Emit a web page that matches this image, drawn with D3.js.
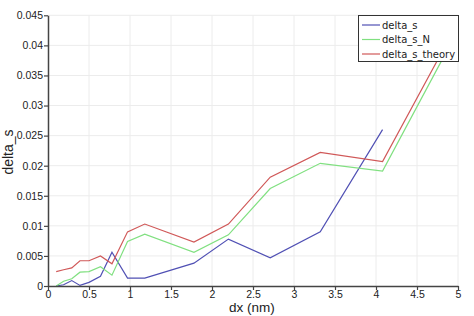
<!DOCTYPE html>
<html>
<head>
<meta charset="utf-8">
<script src="https://cdn.jsdelivr.net/npm/d3@7"></script>
<style>
html,body{margin:0;padding:0;background:#fff;}
svg{display:block;}
</style>
</head>
<body>
<script>
const dx = [0.1, 0.19, 0.29, 0.39, 0.5, 0.64, 0.78, 0.97, 1.18, 1.78, 2.2, 2.71, 3.32, 4.08, 4.9];
const deltaS = [0, 0.0002, 0.0009, 0.0001, 0.0006, 0.0016, 0.0056, 0.0013, 0.0013, 0.0038, 0.0078, 0.0047, 0.009, 0.026];
const deltaSN = [0, 0.0008, 0.0012, 0.0023, 0.0024, 0.0032, 0.0018, 0.0074, 0.0086, 0.0056, 0.0085, 0.0162, 0.0204, 0.0191, 0.040];
const deltaSTheory = [0.0024, 0.0027, 0.003, 0.0042, 0.0042, 0.005, 0.0037, 0.009, 0.0103, 0.0073, 0.0103, 0.0181, 0.0222, 0.0207, 0.0413];
const seriesNames = ["delta_s", "delta_s_N", "delta_s_theory"];
const seriesColors = ["#5050b4", "#80e080", "#d05858"];
const xTicks = [0, 0.5, 1, 1.5, 2, 2.5, 3, 3.5, 4, 4.5, 5];
const yTicks = [0, 0.005, 0.01, 0.015, 0.02, 0.025, 0.03, 0.035, 0.04, 0.045];

const W = 474, H = 316;
const svg = d3.select("body").append("svg").attr("width", W).attr("height", H);
const x = d3.scaleLinear().domain([0, 5]).range([48, 458]);
const y = d3.scaleLinear().domain([0, 0.045]).range([286, 15.3]);

// grid
svg.append("g").selectAll("line").data(xTicks.slice(1)).join("line")
  .attr("x1", d => x(d)).attr("x2", d => x(d)).attr("y1", y(0)).attr("y2", y(0.045))
  .attr("stroke", "#ececec").attr("stroke-width", 1);
svg.append("g").selectAll("line").data(yTicks.slice(1)).join("line")
  .attr("x1", x(0)).attr("x2", x(5)).attr("y1", d => y(d)).attr("y2", d => y(d))
  .attr("stroke", "#ececec").attr("stroke-width", 1);

const series = [deltaS, deltaSN, deltaSTheory];
const line = d3.line().x(d => x(d[0])).y(d => y(d[1]));
series.forEach((vals, i) => {
  const pts = vals.map((v, j) => [dx[j], v]);
  svg.append("path").datum(pts).attr("d", line)
    .attr("fill", "none").attr("stroke", seriesColors[i]).attr("stroke-width", 1.2);
});

// axes
const xAxis = d3.axisBottom(x).tickValues(xTicks).tickSize(4).tickSizeOuter(0).tickFormat(d3.format(".1~f"));
const yAxis = d3.axisLeft(y).tickValues(yTicks).tickSize(4).tickSizeOuter(0).tickFormat(d3.format(".3~f"));
const gx = svg.append("g").attr("transform", `translate(0,${y(0)})`).call(xAxis);
const gy = svg.append("g").attr("transform", `translate(${x(0)},0)`).call(yAxis);
[gx, gy].forEach(g => {
  g.select(".domain").attr("stroke", "#444").attr("stroke-width", 1.5);
  g.selectAll(".tick line").attr("stroke", "#444").attr("stroke-width", 1.2);
  g.selectAll(".tick text").attr("fill", "#222").style("font-family", "Liberation Sans, Arial, sans-serif").style("font-size", "10.5px");
});
gx.selectAll(".tick text").attr("y", 5).attr("dy", "0.71em");
gy.selectAll(".tick text").attr("x", -5);

svg.append("text").attr("x", 252).attr("y", 312).attr("text-anchor", "middle")
  .style("font-family", "Liberation Sans, Arial, sans-serif").style("font-size", "13.5px").attr("fill", "#222")
  .text("dx (nm)");
svg.append("text").attr("transform", "translate(13,152) rotate(-90)").attr("text-anchor", "middle")
  .style("font-family", "Liberation Sans, Arial, sans-serif").style("font-size", "14px").attr("fill", "#222")
  .text("delta_s");

// legend
const lg = svg.append("g");
lg.append("rect").attr("x", 358.5).attr("y", 15.5).attr("width", 100).attr("height", 46)
  .attr("fill", "#fff").attr("stroke", "#333").attr("stroke-width", 1);
seriesNames.forEach((n, i) => {
  const yy = 25 + i * 14.5;
  lg.append("line").attr("x1", 362).attr("x2", 380).attr("y1", yy).attr("y2", yy)
    .attr("stroke", seriesColors[i]).attr("stroke-width", 1.2);
  lg.append("text").attr("x", 382).attr("y", yy).attr("dy", "0.35em")
    .style("font-family", "DejaVu Sans, sans-serif").style("font-size", "10px").attr("fill", "#222")
    .text(n);
});
</script>
</body>
</html>
